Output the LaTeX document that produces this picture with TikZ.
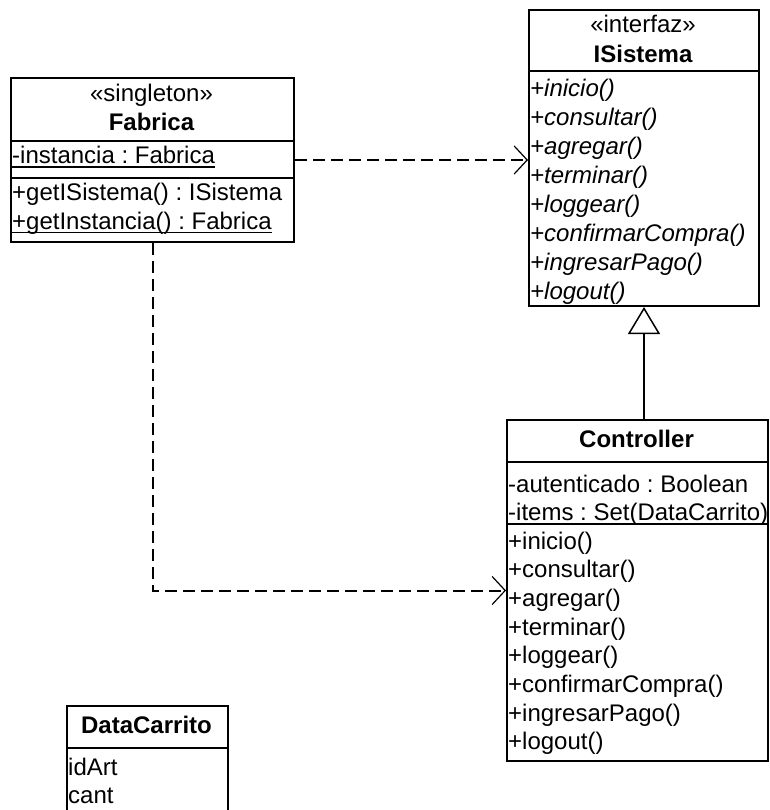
\documentclass[tikz,border=0pt]{standalone}
\usepackage{fontspec}
\setmainfont{Liberation Sans}
\usetikzlibrary{arrows.meta}
\frenchspacing
\begin{document}
\begin{tikzpicture}[x=1pt,y=1pt,
  font=\fontsize{24}{29}\selectfont,
  classbox/.style={draw, line width=2pt, inner sep=0pt, anchor=north west},
  sep/.style={line width=2pt},
  txt/.style={inner sep=0pt, anchor=base west},
  ctxt/.style={inner sep=0pt, anchor=base},
  uline/.style={line width=1.5pt},
  dep/.style={line width=2pt, dash pattern=on 12pt off 6pt,
    -{Straight Barb[length=13pt,width=28pt,line width=1.2pt]}},
  gen/.style={line width=2pt, -{Triangle[open,length=27pt,width=32pt,line width=1.5pt]}}]
\useasboundingbox (0,0) rectangle (769,-810);

% Fabrica
\node[classbox, minimum width=283pt, minimum height=164pt] (fab) at (10,-77) {};
\draw[sep] (10,-141) -- (293,-141);
\draw[sep] (10,-178) -- (293,-178);
\node[ctxt] (fabst) at (151.5,-102) {«singleton»};
\node[ctxt] (fabnm) at (151.5,-131) {\bfseries Fabrica};
\node[txt] (fabat) at (12,-164) {-instancia : Fabrica};
\node[txt] (fabm1) at (12,-201) {+getISistema() : ISistema};
\node[txt] (fabm2) at (12,-229.5) {+getInstancia() : Fabrica};
\draw[uline] ([yshift=-3pt]fabat.base west) -- ([yshift=-3pt]fabat.base east);
\draw[uline] ([yshift=-3pt]fabm2.base west) -- ([yshift=-3pt]fabm2.base east);

% ISistema
\node[classbox, minimum width=230pt, minimum height=296pt] (isis) at (528,-9) {};
\draw[sep] (528,-71) -- (758,-71);
\node[ctxt] (isst) at (643,-33) {«interfaz»};
\node[ctxt] (isnm) at (643,-63) {\bfseries ISistema};
\foreach \t [count=\i] in {inicio(),consultar(),agregar(),terminar(),loggear(),confirmarCompra(),ingresarPago(),logout()}
  \node[txt] (ism\i) at (530,{-97-28.9*(\i-1)}) {\itshape +\t};

% Controller
\node[classbox, minimum width=261pt, minimum height=341pt] (ctrl) at (506,-419) {};
\draw[sep] (506,-462) -- (767,-462);
\draw[sep] (506,-524) -- (767,-524);
\node[ctxt] (ctnm) at (636.5,-447) {\bfseries Controller};
\node[txt] (cta1) at (508,-492) {-autenticado : Boolean};
\node[txt] (cta2) at (508,-520) {-items : Set(DataCarrito)};
\foreach \t [count=\i] in {inicio(),consultar(),agregar(),terminar(),loggear(),confirmarCompra(),ingresarPago(),logout()}
  \node[txt] (ctm\i) at (508,{-549-28.7*(\i-1)}) {+\t};

% DataCarrito
\node[classbox, minimum width=161pt, minimum height=125pt] (dc) at (66,-705) {};
\draw[sep] (66,-748) -- (227,-748);
\node[ctxt] (dcnm) at (146.5,-733) {\bfseries DataCarrito};
\node[txt] (dca1) at (68,-775) {idArt};
\node[txt] (dca2) at (68,-803) {cant};

% Relations
\draw[dep] (fab.east) -- (fab.east -| isis.west);
\draw[dep] (fab.south) |- (ctrl.west);
\draw[gen] (ctrl.north -| isis.south) -- (isis.south);
\end{tikzpicture}
\end{document}
